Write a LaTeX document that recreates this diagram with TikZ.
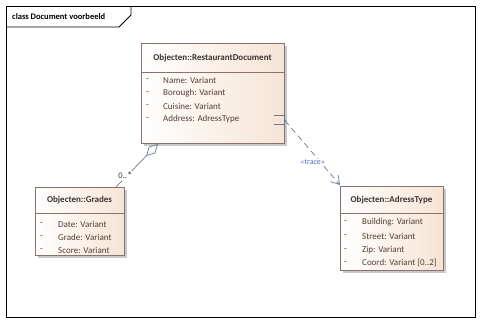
\documentclass[tikz,border=0pt]{standalone}
\usepackage{fontspec}
\setmainfont{Carlito}
\usetikzlibrary{arrows.meta,shadows}
\definecolor{boxline}{RGB}{140,112,112}
\definecolor{boxfill}{RGB}{246,228,212}
\definecolor{attrtext}{RGB}{84,62,52}
\definecolor{headtext}{RGB}{60,50,50}
\definecolor{conn}{RGB}{106,120,152}
\definecolor{stereo}{RGB}{80,112,190}
\definecolor{shadowgray}{RGB}{200,200,200}
\tikzset{
  classbox/.style={draw=boxline, line width=0.9pt, left color=white, right color=boxfill,
    anchor=north west, inner sep=0pt,
    drop shadow={shadow xshift=3pt, shadow yshift=-3pt, fill=shadowgray, opacity=1}},
  headlbl/.style={font=\fontsize{9}{10}\selectfont\bfseries, text=headtext, inner sep=0pt},
  attrlbl/.style={font=\fontsize{9}{10}\selectfont, text=attrtext, anchor=west, inner sep=0pt},
  dashlbl/.style={font=\fontsize{9}{10}\selectfont, text=attrtext, anchor=west, inner sep=0pt},
  sepline/.style={draw=boxline, line width=0.9pt},
  aggr/.style={draw=conn, line width=0.7pt, {Diamond[open, length=17pt, width=9pt]}-},
  tracelink/.style={draw=conn, line width=0.7pt, dash pattern=on 6pt off 4pt, -{Straight Barb[length=8pt, width=10pt]}},
}
\begin{document}
\begin{tikzpicture}[x=1pt,y=-1pt]
\useasboundingbox (0,0) rectangle (482,323);
% frame
\draw[line width=0.9pt] (6.5,6.5) rectangle (475.5,317);
\draw[line width=0.9pt] (6.5,27) -- (119,27) -- (131,15) -- (131,6.5);
\node[font=\fontsize{8.5}{10}\selectfont\bfseries, anchor=west, inner sep=0pt] (title) at (12,17) {class Document voorbeeld};

% RestaurantDocument
\node[classbox, minimum width=143pt, minimum height=100pt] (rd) at (141,43) {};
\node[headlbl] (rdh) at (212.5,58) {Objecten::RestaurantDocument};
\draw[sepline] (141,72) -- (284,72);
\node[dashlbl] (rdd1) at (146,80) {-};
\node[dashlbl] (rdd2) at (146,93) {-};
\node[dashlbl] (rdd3) at (146,106) {-};
\node[dashlbl] (rdd4) at (146,119) {-};
\node[attrlbl] (rda1) at (163,80) {Name: Variant};
\node[attrlbl] (rda2) at (163,93) {Borough: Variant};
\node[attrlbl] (rda3) at (163,106) {Cuisine: Variant};
\node[attrlbl] (rda4) at (163,119) {Address: AdressType};

% Grades
\node[classbox, minimum width=89pt, minimum height=68pt] (gr) at (35,187) {};
\node[headlbl] (grh) at (79.5,200) {Objecten::Grades};
\draw[sepline] (35,213) -- (124,213);
\node[dashlbl] (grd1) at (40,224) {-};
\node[dashlbl] (grd2) at (40,237) {-};
\node[dashlbl] (grd3) at (40,250) {-};
\node[attrlbl] (gra1) at (58,224) {Date: Variant};
\node[attrlbl] (gra2) at (58,237) {Grade: Variant};
\node[attrlbl] (gra3) at (58,250) {Score: Variant};

% AdressType
\node[classbox, minimum width=103pt, minimum height=84pt] (adr) at (340,186) {};
\node[headlbl] (adrh) at (391.5,200) {Objecten::AdressType};
\draw[sepline] (340,213) -- (443,213);
\node[dashlbl] (adrd1) at (344,222) {-};
\node[dashlbl] (adrd2) at (344,236) {-};
\node[dashlbl] (adrd3) at (344,250) {-};
\node[dashlbl] (adrd4) at (344,263) {-};
\node[attrlbl] (adra1) at (362,222) {Building: Variant};
\node[attrlbl] (adra2) at (362,236) {Street: Variant};
\node[attrlbl] (adra3) at (362,250) {Zip: Variant};
\node[attrlbl] (adra4) at (362,263) {Coord: Variant [0..2]};

% port on Address attribute
\coordinate (port) at ([yshift=-27pt]rd.east);
\draw[draw=conn, line width=0.9pt] ([xshift=-11pt,yshift=4.5pt]port) -- ([yshift=4.5pt]port) -- ([yshift=-4.5pt]port) -- ([xshift=-11pt,yshift=-4.5pt]port);
\fill[conn] (port) circle (1.1pt);

% aggregation
\draw[aggr] ([xshift=17pt]rd.south west) -- ([xshift=81pt]gr.north west);
\node[font=\fontsize{8.5}{10}\selectfont, text=headtext, fill=white, inner sep=0.8pt] (mult) at (125.5,176) {0..\raisebox{-0.35ex}{\fontsize{11}{11}\selectfont *}};

% trace
\draw[tracelink] (port) -- ([yshift=1pt]adr.north west)
  node[pos=0.65, xshift=-8pt, fill=white, inner sep=0.6pt, text=stereo, font=\fontsize{8}{9}\selectfont] (trlbl) {«trace»};
\end{tikzpicture}
\end{document}
